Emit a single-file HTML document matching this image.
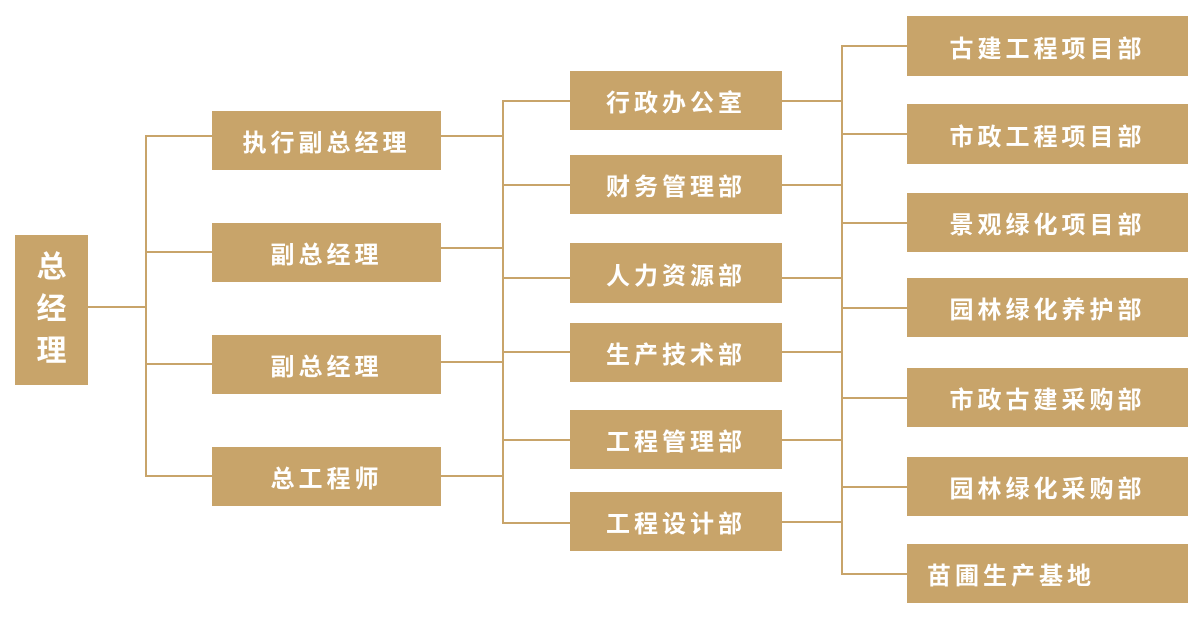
<!DOCTYPE html>
<html><head><meta charset="utf-8"><style>
body{margin:0;width:1200px;height:632px;background:#fff;position:relative;overflow:hidden;font-family:"Liberation Sans","Noto Sans CJK SC",sans-serif}
.b{position:absolute;background:#c8a46a;color:#fff;display:flex;align-items:center;justify-content:center;font-size:24px;font-weight:bold;letter-spacing:4px;box-sizing:border-box}
.l{position:absolute;background:#c8a46a}
</style></head><body>
<div class="b" style="left:15px;top:235px;width:73px;height:150px;flex-direction:column;font-size:30px;line-height:42px;letter-spacing:0">总<br>经<br>理</div>
<div class="l" style="left:88px;top:306px;width:58px;height:2px"></div>
<div class="l" style="left:145px;top:135px;width:2px;height:342px"></div>
<div class="l" style="left:145px;top:135px;width:67px;height:2px"></div>
<div class="l" style="left:145px;top:251px;width:67px;height:2px"></div>
<div class="l" style="left:145px;top:363px;width:67px;height:2px"></div>
<div class="l" style="left:145px;top:475px;width:67px;height:2px"></div>
<div class="b" style="left:212px;top:111px;width:229px;height:59px">执行副总经理</div>
<div class="b" style="left:212px;top:223px;width:229px;height:59px">副总经理</div>
<div class="b" style="left:212px;top:335px;width:229px;height:59px">副总经理</div>
<div class="b" style="left:212px;top:447px;width:229px;height:59px">总工程师</div>
<div class="l" style="left:441px;top:135px;width:62px;height:2px"></div>
<div class="l" style="left:441px;top:247px;width:62px;height:2px"></div>
<div class="l" style="left:441px;top:361px;width:62px;height:2px"></div>
<div class="l" style="left:441px;top:475px;width:62px;height:2px"></div>
<div class="l" style="left:502px;top:100px;width:2px;height:424px"></div>
<div class="l" style="left:502px;top:100px;width:68px;height:2px"></div>
<div class="l" style="left:502px;top:184px;width:68px;height:2px"></div>
<div class="l" style="left:502px;top:277px;width:68px;height:2px"></div>
<div class="l" style="left:502px;top:351px;width:68px;height:2px"></div>
<div class="l" style="left:502px;top:439px;width:68px;height:2px"></div>
<div class="l" style="left:502px;top:522px;width:68px;height:2px"></div>
<div class="b" style="left:570px;top:71px;width:212px;height:59px">行政办公室</div>
<div class="b" style="left:570px;top:155px;width:212px;height:59px">财务管理部</div>
<div class="b" style="left:570px;top:243px;width:212px;height:60px">人力资源部</div>
<div class="b" style="left:570px;top:323px;width:212px;height:59px">生产技术部</div>
<div class="b" style="left:570px;top:410px;width:212px;height:59px">工程管理部</div>
<div class="b" style="left:570px;top:492px;width:212px;height:59px">工程设计部</div>
<div class="l" style="left:782px;top:100px;width:60px;height:2px"></div>
<div class="l" style="left:782px;top:184px;width:60px;height:2px"></div>
<div class="l" style="left:782px;top:277px;width:60px;height:2px"></div>
<div class="l" style="left:782px;top:351px;width:60px;height:2px"></div>
<div class="l" style="left:782px;top:439px;width:60px;height:2px"></div>
<div class="l" style="left:782px;top:521px;width:60px;height:2px"></div>
<div class="l" style="left:841px;top:45px;width:2px;height:530px"></div>
<div class="l" style="left:841px;top:45px;width:66px;height:2px"></div>
<div class="l" style="left:841px;top:133px;width:66px;height:2px"></div>
<div class="l" style="left:841px;top:222px;width:66px;height:2px"></div>
<div class="l" style="left:841px;top:307px;width:66px;height:2px"></div>
<div class="l" style="left:841px;top:397px;width:66px;height:2px"></div>
<div class="l" style="left:841px;top:486px;width:66px;height:2px"></div>
<div class="l" style="left:841px;top:573px;width:66px;height:2px"></div>
<div class="b" style="left:907px;top:16px;width:281px;height:60px">古建工程项目部</div>
<div class="b" style="left:907px;top:104px;width:281px;height:60px">市政工程项目部</div>
<div class="b" style="left:907px;top:193px;width:281px;height:59px">景观绿化项目部</div>
<div class="b" style="left:907px;top:278px;width:281px;height:59px">园林绿化养护部</div>
<div class="b" style="left:907px;top:368px;width:281px;height:59px">市政古建采购部</div>
<div class="b" style="left:907px;top:457px;width:281px;height:59px">园林绿化采购部</div>
<div class="b" style="left:907px;top:544px;width:281px;height:59px;justify-content:flex-start;padding-left:20px">苗圃生产基地</div>
</body></html>
